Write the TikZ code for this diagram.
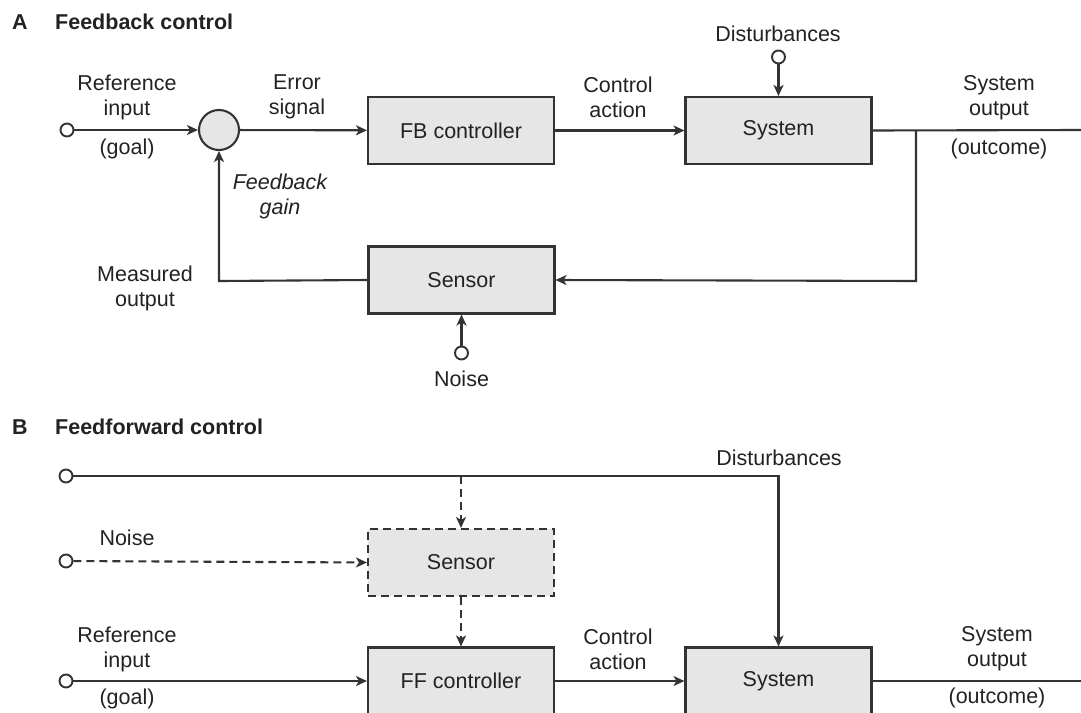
\documentclass[tikz,border=0pt]{standalone}
\usepackage{fontspec}
\setmainfont{Liberation Sans}
\usetikzlibrary{arrows.meta,calc}
\definecolor{ln}{HTML}{333333}
\definecolor{bx}{HTML}{E6E6E6}
\definecolor{txt}{HTML}{222222}
\tikzset{
  every node/.style={font=\fontsize{21.5}{25}\selectfont, text=txt},
  blk/.style={draw=ln, fill=bx, line width=2.1pt, minimum width=186pt, minimum height=67pt, inner sep=0pt},
  dblk/.style={blk, dash pattern=on 8pt off 5pt},
  port/.style={circle, draw=ln, fill=white, line width=1.9pt, minimum size=13pt, inner sep=0pt},
  sumj/.style={circle, draw=ln, fill=bx, line width=2.1pt, minimum size=40pt, inner sep=0pt},
  wire/.style={draw=ln, line width=2.1pt},
  arr/.style={wire, -{Stealth[length=11pt,width=10pt,inset=3pt]}},
  darr/.style={arr, dash pattern=on 8pt off 5pt},
  lbl/.style={align=center, inner sep=0pt},
  head/.style={font=\fontsize{21.5}{25}\selectfont\bfseries, anchor=west, inner sep=0pt},
}
\begin{document}
\begin{tikzpicture}[x=1pt,y=-1pt]
\useasboundingbox (0,0) rectangle (1081,712);
\clip (0,0) rectangle (1081,712);
% ---------- A ----------
\node[head] (hA) at (12,22) {A};
\node[head] (tA) at (55,22) {Feedback control};
\node[port] (refA) at (67,130) {};
\node[sumj] (sum) at (219,130) {};
\node[blk] (fb) at (461,130.5) {FB controller};
\node[blk] (sysA) at (778.5,130.5) {System};
\node[port] (distA) at (778.5,57) {};
\node[blk] (senA) at (461.5,280) {Sensor};
\node[port] (noiseA) at (461.5,353) {};
\coordinate (outA) at (1081,130);
\coordinate (jA) at (916,130);
\coordinate (cA) at (916,281);
\coordinate (fA) at (219,281);

\node[lbl] (lRefA) at (127,97) {Reference\\input};
\node[lbl] (lGoalA) at (127,149) {(goal)};
\node[lbl] (lErr) at (297,97) {Error\\signal};
\node[lbl] (lCaA) at (618,97) {Control\\action};
\node[lbl] (lDistA) at (778,34) {Disturbances};
\node[lbl] (lOutA) at (999,98) {System\\output};
\node[lbl] (lOcA) at (999,149) {(outcome)};
\node[lbl, font=\fontsize{21.5}{25}\selectfont\itshape] (lGain) at (280,196.5) {Feedback\\gain};
\node[lbl] (lMeas) at (145,288.5) {Measured\\output};
\node[lbl] (lNoiseA) at (461.5,379) {Noise};

\draw[arr] (refA) -- (sum);
\draw[arr] (sum) -- (fb);
\draw[arr] (fb) -- (sysA);
\draw[arr] (distA) -- (sysA);
\draw[wire] (sysA.east) -- (outA);
\draw[arr] (jA) -- (cA) -- (senA.east);
\draw[arr] (noiseA) -- (senA);
\draw[arr] (senA.west) -- (fA) -- (sum.south);

% ---------- B ----------
\node[head] (hB) at (12,427) {B};
\node[head] (tB) at (55,427) {Feedforward control};
\node[port] (distB) at (66,476) {};
\node[port] (noiseB) at (66,561) {};
\node[port] (refB) at (66,681) {};
\node[dblk] (senB) at (461,562.5) {Sensor};
\node[blk] (ff) at (461,681) {FF controller};
\node[blk] (sysB) at (778.5,681) {System};
\coordinate (cB) at (778.5,476);
\coordinate (bB) at (461,476);
\coordinate (outB) at (1081,681);

\node[lbl] (lDistB) at (779,458) {Disturbances};
\node[lbl] (lNoiseB) at (127,538) {Noise};
\node[lbl] (lRefB) at (127,649) {Reference\\input};
\node[lbl] (lGoalB) at (127,699) {(goal)};
\node[lbl] (lCaB) at (618,649) {Control\\action};
\node[lbl] (lOutB) at (997,649) {System\\output};
\node[lbl] (lOcB) at (997,698) {(outcome)};

\draw[arr] (distB) -- (cB) -- (sysB.north);
\draw[darr] (bB) -- (senB.north);
\draw[darr] (noiseB) -- (senB.west);
\draw[darr] (senB.south) -- (ff.north);
\draw[arr] (refB) -- (ff.west);
\draw[arr] (ff) -- (sysB);
\draw[wire] (sysB.east) -- (outB);
\end{tikzpicture}
\end{document}
